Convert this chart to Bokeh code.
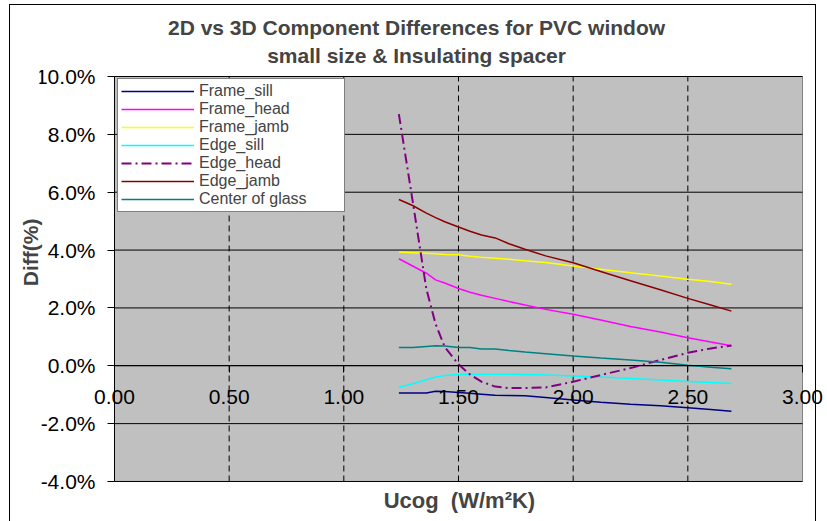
import math
from bokeh.plotting import figure
from bokeh.models import (Range1d, FixedTicker, PrintfTickFormatter, Legend, LegendItem, Label)
from bokeh.embed import file_html
from bokeh.resources import INLINE

# ---- data (values in %) ----
ucog = [1.24, 1.30, 1.36, 1.40, 1.44, 1.50, 1.55, 1.60, 1.66, 1.72, 1.79, 1.88,
        2.00, 2.12, 2.25, 2.38, 2.50, 2.60, 2.69]
frame_sill = [-0.94, -0.94, -0.94, -0.88, -0.89, -0.92, -0.95, -0.98, -1.02, -1.03, -1.04, -1.10,
              -1.18, -1.26, -1.33, -1.38, -1.45, -1.51, -1.57]
frame_head = [3.70, 3.45, 3.20, 2.97, 2.86, 2.67, 2.54, 2.44, 2.33, 2.22, 2.10, 1.95,
              1.78, 1.58, 1.36, 1.17, 0.97, 0.82, 0.69]
frame_jamb = [3.93, 3.91, 3.89, 3.87, 3.85, 3.84, 3.79, 3.75, 3.72, 3.68, 3.63, 3.57,
              3.45, 3.34, 3.22, 3.10, 2.99, 2.91, 2.82]
edge_sill = [-0.74, -0.62, -0.48, -0.39, -0.34, -0.30, -0.29, -0.29, -0.29, -0.29, -0.30, -0.32,
             -0.35, -0.39, -0.44, -0.49, -0.54, -0.58, -0.61]
edge_head = [8.70, 5.70, 2.65, 1.45, 0.65, 0.05, -0.30, -0.55, -0.72, -0.77, -0.77, -0.75,
             -0.55, -0.32, -0.08, 0.20, 0.45, 0.60, 0.70]
edge_jamb = [5.75, 5.54, 5.28, 5.12, 4.98, 4.80, 4.65, 4.52, 4.42, 4.22, 4.03, 3.80,
             3.56, 3.26, 2.94, 2.63, 2.33, 2.10, 1.89]
center_glass = [0.63, 0.63, 0.67, 0.69, 0.68, 0.63, 0.63, 0.58, 0.58, 0.53, 0.48, 0.42,
                0.34, 0.27, 0.20, 0.12, 0.02, -0.05, -0.10]

series_names = ["Frame_sill", "Frame_head", "Frame_jamb", "Edge_sill", "Edge_head",
                "Edge_jamb", "Center of glass"]
series_values = [frame_sill, frame_head, frame_jamb, edge_sill, edge_head, edge_jamb, center_glass]

x_ticks = [0.0, 0.5, 1.0, 1.5, 2.0, 2.5, 3.0]
y_ticks = [-4, -2, 0, 2, 4, 6, 8, 10]

title_line1 = "2D vs 3D Component Differences for PVC window"
title_line2 = "small size & Insulating spacer"
x_label = "Ucog\u00a0\u00a0(W/m\u00b2K)"
y_label = "Diff(%)"

# ---- styles ----
colors = ["#000080", "#FF00FF", "#FFFF00", "#00FFFF", "#800080", "#8B0000", "#008080"]
dashes = ["solid", "solid", "solid", "solid", "10 4 2 4", "solid", "solid"]
widths = [1.5, 1.5, 1.5, 1.5, 2, 1.5, 1.5]
FONT = "Liberation Sans"
BLACK_LINE = "linear-gradient(#000,#000)"

# the frame is a little larger than the plotting area so that the axis texts
# (drawn at x=0 / y=0) are not clipped; the grey plotting area is drawn at 0..3 / -4..10
p = figure(width=818, height=517, output_backend="svg", toolbar_location=None,
           x_range=Range1d(-0.327, 3.1003), y_range=Range1d(-4.346, 10.346),
           title=None, min_border_left=30, min_border_right=2, min_border_top=62,
           min_border_bottom=30)
p.background_fill_color = None
p.border_fill_color = None
p.outline_line_color = None
p.xgrid.visible = False
p.ygrid.visible = False
p.styles = {
    "margin-left": "9px", "margin-top": "4px",
    "background": (f"{BLACK_LINE} 0 0 / 1px 100% no-repeat, "
                   f"{BLACK_LINE} 0 0 / 807px 1px no-repeat, "
                   f"{BLACK_LINE} 806px 0 / 1px 100% no-repeat, white"),
}

# plotting area and its grid
p.quad(left=[x_ticks[0]], right=[x_ticks[-1]], bottom=[y_ticks[0]], top=[y_ticks[-1]],
       fill_color="#C0C0C0", line_color="#808080", line_width=1)
p.segment(x0=x_ticks[1:-1], x1=x_ticks[1:-1], y0=[y_ticks[0]] * 5, y1=[y_ticks[-1]] * 5,
          line_color="black", line_dash="6 4", line_width=1)
p.segment(x0=[x_ticks[0]] * len(y_ticks), x1=[x_ticks[-1]] * len(y_ticks),
          y0=y_ticks, y1=y_ticks, line_color="black", line_width=1)

# titles
for txt, yy in [(title_line1, 11.69), (title_line2, 10.72)]:
    p.add_layout(Label(x=1.317, y=yy, text=txt, text_align="center", text_baseline="middle",
                       text_font=FONT, text_font_size="21px", text_font_style="bold"), "above")
p.add_layout(Label(x=1.504, y=-4.66, text=x_label, text_align="center", text_baseline="middle",
                   text_font=FONT, text_font_size="22px", text_font_style="bold"), "below")
p.add_layout(Label(x=-0.366, y=3.92, text=y_label, angle=math.pi / 2, text_align="center",
                   text_baseline="middle", text_font=FONT, text_font_size="21px",
                   text_font_style="bold"), "left")

# x axis at y = 0
xa = p.xaxis[0]
xa.fixed_location = 0
xa.bounds = (x_ticks[0], x_ticks[-1])
xa.ticker = FixedTicker(ticks=x_ticks)
xa.formatter = PrintfTickFormatter(format="%.2f")
xa.major_tick_in = 0
xa.major_tick_out = 7
xa.minor_tick_line_color = None
xa.major_label_standoff = 17
xa.major_label_text_font = FONT
xa.major_label_text_font_size = "21px"
xa.major_label_text_color = "black"
xa.axis_line_color = "black"

# y axis at x = 0
ya = p.yaxis[0]
ya.fixed_location = 0
ya.bounds = (y_ticks[0], y_ticks[-1])
ya.ticker = FixedTicker(ticks=y_ticks)
ya.formatter = PrintfTickFormatter(format="%.1f%%")
ya.major_tick_in = 0
ya.major_tick_out = 7
ya.minor_tick_line_color = None
ya.major_label_standoff = 12
ya.major_label_text_font = FONT
ya.major_label_text_font_size = "21px"
ya.major_label_text_color = "black"
ya.axis_line_color = "black"

items = []
for name, vals, c, d, w in zip(series_names, series_values, colors, dashes, widths):
    r = p.line(ucog, vals, line_color=c, line_dash=d, line_width=w)
    items.append(LegendItem(label=name, renderers=[r]))

legend = Legend(items=items, location=(78, 279), margin=0, padding=3, spacing=0,
                label_height=12, glyph_height=12, glyph_width=73, label_standoff=5,
                label_width=142,
                label_text_font=FONT, label_text_font_size="16px",
                border_line_color="black", border_line_width=1,
                background_fill_color="white", background_fill_alpha=1)
p.add_layout(legend)

open("out.html", "w").write(file_html(p, INLINE))
